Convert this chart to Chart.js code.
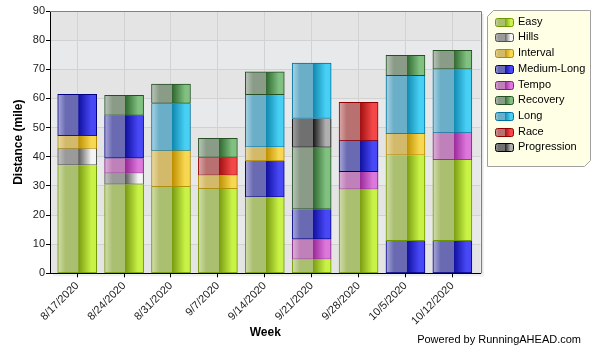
<!DOCTYPE html>
<html>
<head>
<meta charset="utf-8">
<script src="https://cdn.jsdelivr.net/npm/chart.js@4.4.0/dist/chart.umd.min.js"></script>
<style>
  body { margin: 0; background: #fff; }
  #wrap { width: 600px; height: 350px; position: relative; }
</style>
</head>
<body>
<div id="wrap"><canvas id="chartSemanas"></canvas></div>
<script>
// semanas y ticks
const weeks = ['8/17/2020', '8/24/2020', '8/31/2020', '9/7/2020', '9/14/2020', '9/21/2020', '9/28/2020', '10/5/2020', '10/12/2020'];
const yTicks = [0, 10, 20, 30, 40, 50, 60, 70, 80, 90];

// millas por tipo de carrera
const easy = [37.1, 30.5, 29.7, 29.0, 26.1, 4.8, 28.8, 29.3, 27.8];
const hills = [5.7, 3.8, null, null, null, null, null, null, null];
const interval = [4.4, null, 12.4, 4.6, 4.7, null, null, 7.4, null];
const mediumLong = [14.2, 14.7, null, null, 12.5, 10.3, 10.6, 11.2, 11.2];
const tempo = [null, 5.2, null, null, null, 6.9, 6.1, null, 9.2];
const recovery = [null, 6.9, 6.6, 6.5, 7.8, 21.2, null, 7.0, 6.5];
const long = [null, null, 16.2, null, 18.0, 19.0, null, 19.9, 21.8];
const race = [null, null, null, 6.2, null, null, 13.2, null, null];
const progression = [null, null, null, null, null, 9.9, null, null, null];

// orden de apilado de abajo hacia arriba en cada semana
const stackOrder = [
  ['Easy', 'Hills', 'Interval', 'Medium-Long'],
  ['Easy', 'Hills', 'Tempo', 'Medium-Long', 'Recovery'],
  ['Easy', 'Interval', 'Long', 'Recovery'],
  ['Easy', 'Interval', 'Race', 'Recovery'],
  ['Easy', 'Medium-Long', 'Interval', 'Long', 'Recovery'],
  ['Easy', 'Tempo', 'Medium-Long', 'Recovery', 'Progression', 'Long'],
  ['Easy', 'Tempo', 'Medium-Long', 'Race'],
  ['Medium-Long', 'Easy', 'Interval', 'Long', 'Recovery'],
  ['Medium-Long', 'Easy', 'Tempo', 'Long', 'Recovery'],
];

const series = {
  'Easy': easy,
  'Hills': hills,
  'Interval': interval,
  'Medium-Long': mediumLong,
  'Tempo': tempo,
  'Recovery': recovery,
  'Long': long,
  'Race': race,
  'Progression': progression,
};

// claro, apagado, oscuro, brillante, borde
const palette = {
  'Easy': ['#d3deac', '#abbf70', '#7a9c12', '#c8f246', '#6e9600'],
  'Hills': ['#c4c4c4', '#9a9a9a', '#5c5c5c', '#f4f4f4', '#505050'],
  'Interval': ['#eadba4', '#d3b96a', '#bf9000', '#f8d852', '#b08800'],
  'Medium-Long': ['#aaaadc', '#6a6ab2', '#1010a0', '#4848f6', '#000080'],
  'Tempo': ['#ddb2d8', '#c080b9', '#9a2898', '#dc78dc', '#802080'],
  'Recovery': ['#bac6ba', '#8a9c88', '#306830', '#80c080', '#245024'],
  'Long': ['#aad4e4', '#6aaec8', '#1088b0', '#48d0f4', '#00709c'],
  'Race': ['#daaaaa', '#b87070', '#a01010', '#f44848', '#900000'],
  'Progression': ['#a2a2a2', '#707070', '#181818', '#b0b0b0', '#000000'],
};

const BAR_W = 39;

const gradiente = function (ctx, x0, x1, c) {
  const g = ctx.createLinearGradient(x0, 0, x1, 0);
  g.addColorStop(0, c[0]);
  g.addColorStop(0.2, c[1]);
  g.addColorStop(0.53, c[1]);
  g.addColorStop(0.535, c[2]);
  g.addColorStop(0.86, c[3]);
  g.addColorStop(1, c[3]);
  return g;
};

const rangos = function (label) {
  let out = [];
  weeks.forEach(function (w, i) {
    let base = 0;
    for (let name of stackOrder[i]) {
      let v = series[name][i];
      if (name === label) {
        out.push({ x: i, y: [base, base + v] });
        break;
      }
      base += v;
    }
  });
  return out;
};

const datasets = Object.keys(series).map(function (label) {
  const c = palette[label];
  return {
    label: label,
    data: rangos(label),
    grouped: false,
    barThickness: BAR_W,
    borderSkipped: false,
    borderColor: c[4],
    borderWidth: function (ctx) {
      if (!ctx.raw) return 1;
      let order = stackOrder[ctx.raw.x];
      let esTope = order[order.length - 1] === label;
      return { top: esTope ? 1 : 0, right: 1, bottom: 1, left: 1 };
    },
    backgroundColor: function (ctx) {
      const chart = ctx.chart;
      if (!ctx.raw || !chart.chartArea || !chart.scales.x) return c[1];
      let cx = chart.scales.x.getPixelForValue(ctx.raw.x);
      return gradiente(chart.ctx, cx - BAR_W / 2, cx + BAR_W / 2, c);
    },
  };
});

const FONT = '"Liberation Sans", Arial, sans-serif';

const marco = {
  id: 'marco',
  beforeDraw(chart) {
    const { ctx, chartArea: a, scales: { y } } = chart;
    ctx.save();
    ctx.fillStyle = '#fff';
    ctx.fillRect(0, 0, chart.width, chart.height);
    ctx.fillStyle = '#e4e4e4';
    ctx.fillRect(a.right, a.top + 3, 3, a.bottom - a.top);
    ctx.fillStyle = '#f0f0f0';
    ctx.fillRect(a.left + 3, a.bottom, a.right - a.left, 3);
    for (let i = 0; i < yTicks.length - 1; i++) {
      let y0 = y.getPixelForValue(yTicks[i]);
      let y1 = y.getPixelForValue(yTicks[i + 1]);
      ctx.fillStyle = i % 2 === 0 ? '#e4e4e5' : '#e8e9eb';
      ctx.fillRect(a.left, y1, a.right - a.left, y0 - y1);
    }
    ctx.restore();
  },
  afterDatasetsDraw(chart) {
    const { ctx, chartArea: a } = chart;
    ctx.save();
    ctx.strokeStyle = '#808080';
    ctx.lineWidth = 1;
    ctx.beginPath();
    ctx.moveTo(a.left, Math.round(a.top) + 0.5);
    ctx.lineTo(Math.round(a.right) + 0.5, Math.round(a.top) + 0.5);
    ctx.lineTo(Math.round(a.right) + 0.5, a.bottom);
    ctx.stroke();
    ctx.restore();
  },
  afterDraw(chart) {
    const ctx = chart.ctx;
    ctx.save();
    // caja de leyenda
    const L = 487.5, T = 10.5, R = 590.5, B = 166.5, k = 6;
    ctx.beginPath();
    ctx.moveTo(L + k, T);
    ctx.lineTo(R, T);
    ctx.lineTo(R, B - k);
    ctx.lineTo(R - k, B);
    ctx.lineTo(L, B);
    ctx.lineTo(L, T + k);
    ctx.closePath();
    ctx.fillStyle = '#ffffe6';
    ctx.fill();
    ctx.strokeStyle = '#a0a0a0';
    ctx.lineWidth = 1;
    ctx.stroke();

    ctx.font = '11px ' + FONT;
    ctx.textBaseline = 'middle';
    ctx.textAlign = 'left';
    Object.keys(series).forEach(function (label, i) {
      const c = palette[label];
      let cy = 21.7 + i * 15.7;
      let x0 = 495, w = 18, h = 8;
      ctx.beginPath();
      ctx.roundRect(x0 + 0.5, Math.round(cy - h / 2) + 0.5, w, h, 2);
      ctx.fillStyle = gradiente(ctx, x0, x0 + w, c);
      ctx.fill();
      ctx.strokeStyle = c[4];
      ctx.stroke();
      ctx.fillStyle = '#000';
      ctx.fillText(label, 518, cy);
    });

    ctx.textAlign = 'right';
    ctx.fillText('Powered by RunningAHEAD.com', 581, 340);
    ctx.restore();
  },
};

new Chart(document.getElementById('chartSemanas').getContext('2d'), {
  type: 'bar',
  data: { datasets: datasets },
  options: {
    responsive: true,
    maintainAspectRatio: false,
    animation: false,
    layout: { padding: { top: 11, right: 119.5, bottom: 0, left: 0 } },
    plugins: {
      legend: { display: false },
      tooltip: { enabled: false },
    },
    scales: {
      x: {
        type: 'linear',
        min: -0.58,
        max: 8.6,
        offset: false,
        afterBuildTicks: function (scale) {
          scale.ticks = weeks.map(function (w, i) { return { value: i }; });
        },
        afterFit: function (scale) { scale.height = 76.7; },
        ticks: {
          autoSkip: false,
          minRotation: 45,
          maxRotation: 45,
          padding: 2,
          color: '#222',
          font: { family: FONT, size: 11 },
          callback: function (v) { return weeks[v]; },
        },
        grid: { offset: false, color: '#d2d2d2', tickColor: '#000', tickLength: 4 },
        border: { color: '#000' },
        title: {
          display: true,
          text: 'Week',
          color: '#000',
          font: { family: FONT, size: 12, weight: 'bold' },
          padding: { top: 0, bottom: 10 },
        },
      },
      y: {
        min: 0,
        max: 90,
        afterBuildTicks: function (scale) {
          scale.ticks = yTicks.map(function (v) { return { value: v }; });
        },
        afterFit: function (scale) { scale.width = 50; },
        ticks: {
          padding: 1,
          color: '#222',
          font: { family: FONT, size: 11 },
        },
        grid: { color: '#d2d2d2', tickColor: '#000', tickLength: 4 },
        border: { color: '#000' },
        title: {
          display: true,
          text: 'Distance (mile)',
          color: '#000',
          font: { family: FONT, size: 12, weight: 'bold' },
          padding: { top: 11, bottom: 0 },
        },
      },
    },
  },
  plugins: [marco],
});
</script>
</body>
</html>
